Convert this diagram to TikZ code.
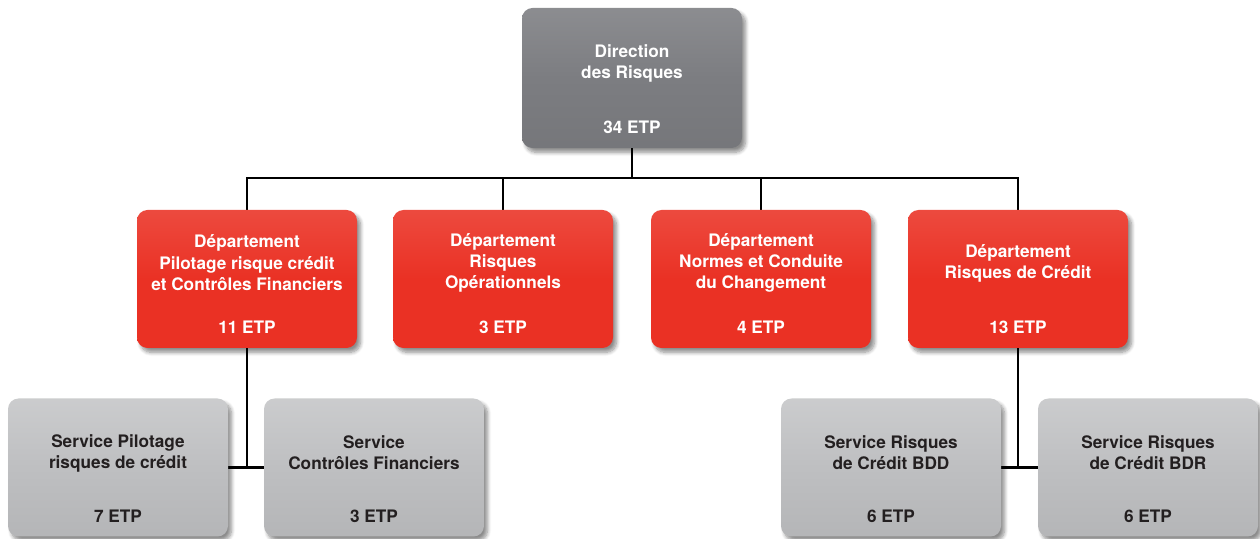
\documentclass[tikz,border=0pt]{standalone}
\usepackage{fontspec}
\setmainfont{TeX Gyre Heros}
\usepackage{xcolor}
\usepackage{tikz}
\usetikzlibrary{
  positioning,
  shadows.blur,
  backgrounds
}
\definecolor{DirGray}{RGB}{124, 125, 129}
\definecolor{DeptRed}{RGB}{234, 49, 36}
\definecolor{ServGray}{RGB}{190, 191, 193}
\definecolor{ServText}{RGB}{35, 31, 32}
\tikzset{
    orgbox/.style={rectangle, rounded corners=6pt, minimum width=4.4cm, minimum height=2.76cm,
        blur shadow={shadow xshift=2pt, shadow yshift=-2.5pt, shadow blur steps=8, shadow opacity=45}},
    dirbox/.style={orgbox, top color=DirGray!88!white, bottom color=DirGray!95!black, middle color=DirGray, minimum height=2.8cm},
    deptbox/.style={orgbox, top color=DeptRed!88!white, bottom color=DeptRed, middle color=DeptRed},
    servbox/.style={orgbox, top color=ServGray!80!white, bottom color=ServGray!95!black, middle color=ServGray},
    boxtext/.style={align=center, font=\fontsize{9.8}{12}\selectfont\bfseries, text=white, inner sep=0pt},
    servtext/.style={boxtext, text=ServText},
    link/.style={line width=1.2pt, black}
}

\begin{document}
\begin{tikzpicture}
    \useasboundingbox (0,0) rectangle (25.2,10.78);

    % direction
    \node[dirbox] (dir) at (12.64,9.22) {};
    \node[boxtext] (dir-t) at ([yshift=-1.11cm]dir.north) {Direction\\des Risques};
    \node[boxtext] (dir-n) at ([yshift=0.42cm]dir.south) {34 ETP};

    % departements
    \node[deptbox] (dpc) at (4.94,5.2) {};
    \node[boxtext] (dpc-t) at ([yshift=-1.06cm]dpc.north) {Département\\Pilotage risque crédit\\et Contrôles Financiers};
    \node[boxtext] (dpc-n) at ([yshift=0.42cm]dpc.south) {11 ETP};

    \node[deptbox] (dro) at (10.06,5.2) {};
    \node[boxtext] (dro-t) at ([yshift=-1.06cm]dro.north) {Département\\Risques\\Opérationnels};
    \node[boxtext] (dro-n) at ([yshift=0.42cm]dro.south) {3 ETP};

    \node[deptbox] (dnc) at (15.22,5.2) {};
    \node[boxtext] (dnc-t) at ([yshift=-1.06cm]dnc.north) {Département\\Normes et Conduite\\du Changement};
    \node[boxtext] (dnc-n) at ([yshift=0.42cm]dnc.south) {4 ETP};

    \node[deptbox] (drc) at (20.36,5.2) {};
    \node[boxtext] (drc-t) at ([yshift=-1.08cm]drc.north) {Département\\Risques de Crédit};
    \node[boxtext] (drc-n) at ([yshift=0.42cm]drc.south) {13 ETP};

    % services
    \node[servbox] (spr) at (2.36,1.43) {};
    \node[servtext] (spr-t) at ([yshift=-1.1cm]spr.north) {Service Pilotage\\risques de crédit};
    \node[servtext] (spr-n) at ([yshift=0.42cm]spr.south) {7 ETP};

    \node[servbox] (scf) at (7.48,1.43) {};
    \node[servtext] (scf-t) at ([yshift=-1.1cm]scf.north) {Service\\Contrôles Financiers};
    \node[servtext] (scf-n) at ([yshift=0.42cm]scf.south) {3 ETP};

    \node[servbox] (bdd) at (17.82,1.43) {};
    \node[servtext] (bdd-t) at ([yshift=-1.1cm]bdd.north) {Service Risques\\de Crédit BDD};
    \node[servtext] (bdd-n) at ([yshift=0.42cm]bdd.south) {6 ETP};

    \node[servbox] (bdr) at (22.96,1.43) {};
    \node[servtext] (bdr-t) at ([yshift=-1.1cm]bdr.north) {Service Risques\\de Crédit BDR};
    \node[servtext] (bdr-n) at ([yshift=0.42cm]bdr.south) {6 ETP};

    % links
    \coordinate (bus) at (12.64,7.22);
    \begin{scope}[on background layer]
        \draw[link] (dir.south) -- (bus);
        \draw[link] (dpc.north) |- (bus) -| (drc.north);
        \draw[link] (dro.north) -- (dro.north |- bus);
        \draw[link] (dnc.north) -- (dnc.north |- bus);
        \draw[link] (dpc.south) -- (dpc.south |- spr.east);
        \draw[link] (spr.east) -- (scf.west);
        \draw[link] (drc.south) -- (drc.south |- bdd.east);
        \draw[link] (bdd.east) -- (bdr.west);
    \end{scope}
\end{tikzpicture}
\end{document}
